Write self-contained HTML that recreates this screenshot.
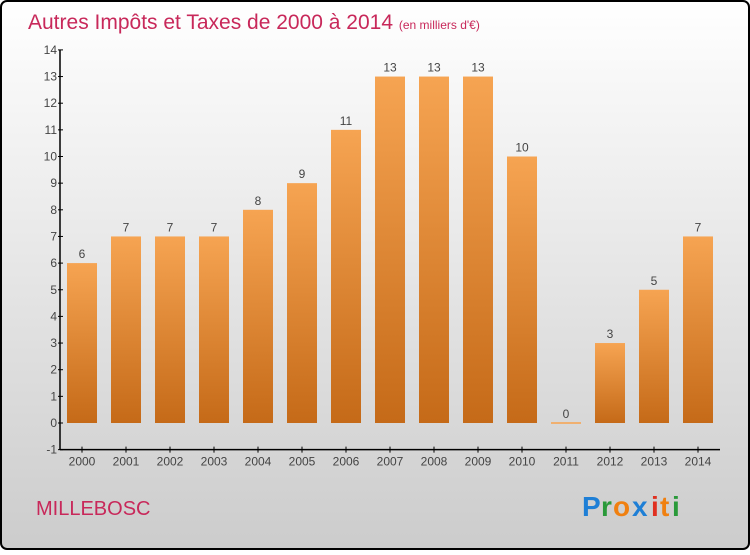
<!DOCTYPE html>
<html><head><meta charset="utf-8"><style>
html,body{margin:0;padding:0;}
body{width:750px;height:550px;overflow:hidden;font-family:"Liberation Sans",sans-serif;}
</style></head><body>
<svg id="chart" width="750" height="550" xmlns="http://www.w3.org/2000/svg">
<defs>
<linearGradient id="bg" x1="0" y1="0" x2="0" y2="1"><stop offset="0" stop-color="#ffffff"/><stop offset="1" stop-color="#cccccc"/></linearGradient>
<linearGradient id="bar" x1="0" y1="0" x2="0" y2="1"><stop offset="0" stop-color="#f6a452"/><stop offset="1" stop-color="#c56a18"/></linearGradient>
</defs>
<rect x="1" y="1" width="748" height="548" rx="6" fill="url(#bg)" stroke="#000" stroke-width="2"/>
<text x="28" y="29" font-size="21" fill="#c8285a">Autres Impôts et Taxes de 2000 à 2014 <tspan font-size="12">(en milliers d'€)</tspan></text>
<text x="36" y="515" font-size="20" fill="#c8285a">MILLEBOSC</text>
<g font-size="28" font-weight="bold" font-family="'Liberation Sans',sans-serif">
<text x="582" y="516" fill="#1e7fd6">P</text><text x="601" y="516" fill="#2a9a3a">r</text><text x="613" y="516" fill="#f08010">o</text><text x="632" y="516" fill="#1e7fd6">x</text><text x="651" y="516" fill="#e03020">i</text><text x="660" y="516" fill="#f08010">t</text><text x="672" y="516" fill="#2a9a3a">i</text>
</g>
<g id="axes"></g>
<g id="bars"></g>
</svg>
<script>
const years=["2000","2001","2002","2003","2004","2005","2006","2007","2008","2009","2010","2011","2012","2013","2014"];
const values=[6,7,7,7,8,9,11,13,13,13,10,0,3,5,7];
const yTicks=[-1,0,1,2,3,4,5,6,7,8,9,10,11,12,13,14];
const NS="http://www.w3.org/2000/svg";
const y0=423,unit=26.65,axisX=60,x0=82,step=44;
const Y=v=>y0-v*unit, X=i=>x0+i*step;
function el(t,a,p){const e=document.createElementNS(NS,t);for(const k in a)e.setAttribute(k,a[k]);p.appendChild(e);return e;}
const ax=document.getElementById('axes'),bg=document.getElementById('bars');
const ya=el('line',{x1:axisX,y1:Y(14),x2:axisX,y2:Y(-1),stroke:'#000','stroke-width':1.5},ax);


const xa=el('line',{x1:axisX,y1:Y(-1),x2:720,y2:Y(-1),stroke:'#000','stroke-width':1.5},ax);


yTicks.forEach(v=>{
  el('line',{x1:axisX-2,y1:Y(v),x2:axisX+3,y2:Y(v),stroke:'#000'},ax);
  const t=el('text',{x:axisX-3,y:Y(v)+4,'font-size':12,fill:'#444','text-anchor':'end'},ax);
  t.textContent=v;
  
  
});
years.forEach((yr,i)=>{
  el('line',{x1:X(i),y1:Y(-1)-3,x2:X(i),y2:Y(-1)+3,stroke:'#000'},ax);
  const t=el('text',{x:X(i),y:Y(-1)+16,'font-size':12,fill:'#444','text-anchor':'middle'},ax);
  t.textContent=yr;
  
  
  const v=values[i];
  const h=Math.max(Math.abs(Y(v)-Y(0)),2);
  const r=el('rect',{x:X(i)-15,y:Math.min(Y(v),Y(0)-1),width:30,height:h,fill:v===0?'#f0b070':'url(#bar)'},bg);
  
  
  const l=el('text',{x:X(i),y:Y(v)-5,'font-size':12,fill:'#444','text-anchor':'middle'},bg);
  l.textContent=v;
  
  
});
</script>
</body></html>
